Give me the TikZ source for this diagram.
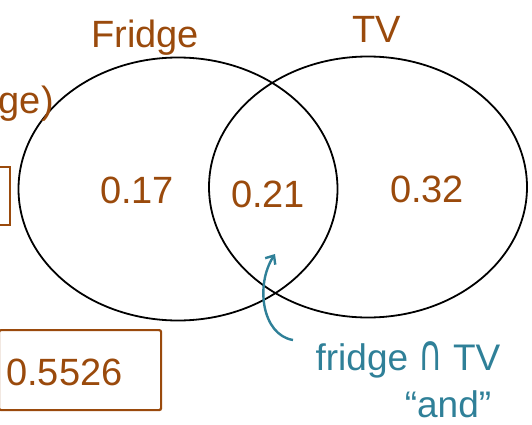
\documentclass[tikz,border=0pt]{standalone}
\usepackage{fontspec}
\setmainfont{Liberation Sans}
\newfontfamily\symfnt{DejaVu Sans}
\usetikzlibrary{arrows.meta,shapes.geometric}
\definecolor{brn}{HTML}{9A4A0C}
\definecolor{tealc}{HTML}{2F8098}
\tikzset{
  setline/.style={draw=black, line width=1.8pt},
  brtext/.style={text=brn, font=\fontsize{38}{40}\selectfont, inner sep=0pt},
  tltext/.style={text=tealc, font=\fontsize{37}{39}\selectfont, inner sep=0pt},
  brbox/.style={draw=brn, line width=2.2pt, rounded corners=2pt},
}
\begin{document}
\begin{tikzpicture}[x=1pt,y=-1pt]
\useasboundingbox (0,0) rectangle (532,425);
\clip (0,0) rectangle (532,425);
% sets
\node[setline, ellipse, minimum width=319pt, minimum height=263pt, inner sep=0pt] (fridgeset) at (178,189) {};
\node[setline, ellipse, minimum width=318pt, minimum height=261pt, inner sep=0pt] (tvset) at (368,187) {};
% labels
\node[brtext] (flabel) at (145,38) {Fridge};
\node[brtext] (tvlabel) at (377,29) {TV};
\node[brtext] (v17) at (137,190) {0.17};
\node[brtext] (v21) at (268,194) {0.21};
\node[brtext] (v32) at (427,189) {0.32};
% cut-off left parts
\node[brtext, anchor=east] (pf) at (54,104) {P(fridge)};
\draw[brn, line width=2.2pt] (-30,167) -- (10,167) -- (10,225) -- (-30,225);
% result box
\node[brbox, minimum width=162pt, minimum height=80pt, anchor=north west] (resbox) at (-2,329) {};
\node[brtext, anchor=west] (res) at (6,372) {0.5526};
% annotation
\node[tltext] (andlbl) at (408,360) {fridge {\symfnt\scalebox{0.9}[1.35]{∩}} TV};
\node[tltext] (andq) at (448,404) {“and”};
\coordinate (arrtail) at (293,340);
\coordinate (arrhead) at (275,254);
\draw[tealc, line width=2.4pt, -{Straight Barb[length=7pt,width=12pt]}] (arrtail) .. controls (262,335) and (255,285) .. (arrhead);
\end{tikzpicture}
\end{document}
